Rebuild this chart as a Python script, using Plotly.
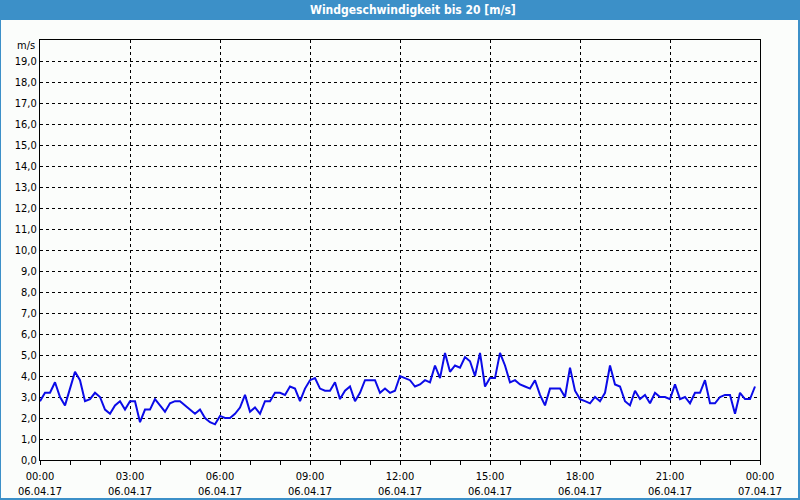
import plotly.graph_objects as go
import pandas as pd

start_time = "2017-04-06 00:00"
interval = "10min"
wind_speed = [
    2.8, 3.2, 3.2, 3.7, 3.0, 2.6, 3.4, 4.2, 3.8, 2.8, 2.9, 3.2,
    3.0, 2.4, 2.2, 2.6, 2.8, 2.4, 2.8, 2.8, 1.8, 2.4, 2.4, 2.9,
    2.6, 2.3, 2.7, 2.8, 2.8, 2.6, 2.4, 2.2, 2.4, 2.0, 1.8, 1.7,
    2.1, 2.0, 2.0, 2.2, 2.5, 3.1, 2.3, 2.5, 2.2, 2.8, 2.8, 3.2,
    3.2, 3.1, 3.5, 3.4, 2.8, 3.4, 3.8, 3.9, 3.4, 3.3, 3.3, 3.7,
    2.9, 3.3, 3.5, 2.8, 3.2, 3.8, 3.8, 3.8, 3.2, 3.4, 3.2, 3.3,
    4.0, 3.9, 3.8, 3.5, 3.6, 3.8, 3.7, 4.5, 3.9, 5.1, 4.2, 4.5,
    4.4, 4.9, 4.7, 4.0, 5.1, 3.5, 3.9, 3.9, 5.1, 4.5, 3.7, 3.8,
    3.6, 3.5, 3.4, 3.8, 3.1, 2.6, 3.4, 3.4, 3.4, 3.0, 4.4, 3.3,
    2.9, 2.8, 2.7, 3.0, 2.8, 3.2, 4.5, 3.6, 3.5, 2.8, 2.6, 3.3,
    2.9, 3.1, 2.7, 3.2, 3.0, 3.0, 2.9, 3.6, 2.9, 3.0, 2.7, 3.2,
    3.2, 3.8, 2.7, 2.7, 3.0, 3.1, 3.1, 2.2, 3.2, 2.9, 2.9, 3.5,
]
times = pd.date_range(start=start_time, periods=len(wind_speed), freq=interval)

y_tickvals = list(range(0, 20))
y_ticktext = [f"{v},0" for v in y_tickvals]
title_text = "Windgeschwindigkeit bis 20 [m/s]"
unit_text = "m/s"

BG = "#FBFDFB"
BAR = "#3C90C8"
FONT = "DejaVu Sans Condensed, DejaVu Sans, sans-serif"

W, H = 800, 500
ML, MR, MT, MB = 40, 40, 40, 40
PW, PH = W - ML - MR, H - MT - MB


def px_x(px):
    return (px - ML) / PW


def px_y(py):
    return (H - MB - py) / PH


fig = go.Figure()
fig.add_trace(go.Scatter(
    x=times, y=wind_speed, mode="lines",
    line=dict(color="#0B0BE8", width=2),
    hoverinfo="x+y", showlegend=False,
))

fig.update_layout(
    width=W, height=H, autosize=False,
    margin=dict(l=ML, r=MR, t=MT, b=MB, pad=0),
    paper_bgcolor=BG, plot_bgcolor=BG,
    font=dict(family=FONT, size=11, color="#000000"),
    xaxis=dict(
        type="date", automargin=False,
        range=["2017-04-06 00:00", "2017-04-07 00:00"],
        tick0="2017-04-06 00:00", dtick=3 * 3600000,
        tickformat="%H:%M<br>%d.%m.%y",
        ticks="outside", ticklen=4, tickcolor="#000000",
        ticklabelstandoff=2,
        showgrid=True, gridcolor="#000000", gridwidth=1, griddash="3px,3px",
        minor=dict(dtick=3600000, ticks="outside", ticklen=4,
                   tickcolor="#000000", showgrid=False),
        showline=True, linecolor="#000000", linewidth=1, mirror=True,
        zeroline=False, fixedrange=True,
        tickfont=dict(family=FONT, size=11),
    ),
    yaxis=dict(
        range=[0, 20], automargin=False,
        tickvals=y_tickvals, ticktext=y_ticktext,
        ticks="", showgrid=True, gridcolor="#000000", gridwidth=1,
        griddash="3px,3px",
        showline=True, linecolor="#000000", linewidth=1, mirror=True,
        zeroline=False, fixedrange=True,
        tickfont=dict(family=FONT, size=11),
    ),
    shapes=[
        dict(type="rect", xref="paper", yref="paper",
             x0=px_x(0), x1=px_x(W), y0=px_y(20), y1=px_y(0),
             fillcolor=BAR, line=dict(width=0), layer="above"),
        dict(type="rect", xref="paper", yref="paper",
             x0=px_x(0), x1=px_x(1), y0=px_y(H), y1=px_y(0),
             fillcolor=BAR, line=dict(width=0), layer="above"),
        dict(type="rect", xref="paper", yref="paper",
             x0=px_x(W - 2), x1=px_x(W), y0=px_y(H), y1=px_y(0),
             fillcolor=BAR, line=dict(width=0), layer="above"),
        dict(type="rect", xref="paper", yref="paper",
             x0=px_x(0), x1=px_x(W), y0=px_y(H), y1=px_y(H - 2),
             fillcolor=BAR, line=dict(width=0), layer="above"),
    ],
    annotations=[
        dict(text=f"<b>{title_text}</b>", xref="paper", yref="paper",
             x=px_x(413), y=px_y(10), xanchor="center", yanchor="middle",
             showarrow=False, font=dict(family=FONT, size=12, color="#FFFFFF")),
        dict(text=unit_text, xref="paper", yref="paper",
             x=px_x(37), y=px_y(46), xanchor="right", yanchor="middle",
             showarrow=False, font=dict(family=FONT, size=11, color="#000000")),
    ],
)

fig.write_html(
    "out.html",
    config=dict(displayModeBar=False),
    post_script="document.body.style.margin='0';document.body.style.padding='0';",
)
